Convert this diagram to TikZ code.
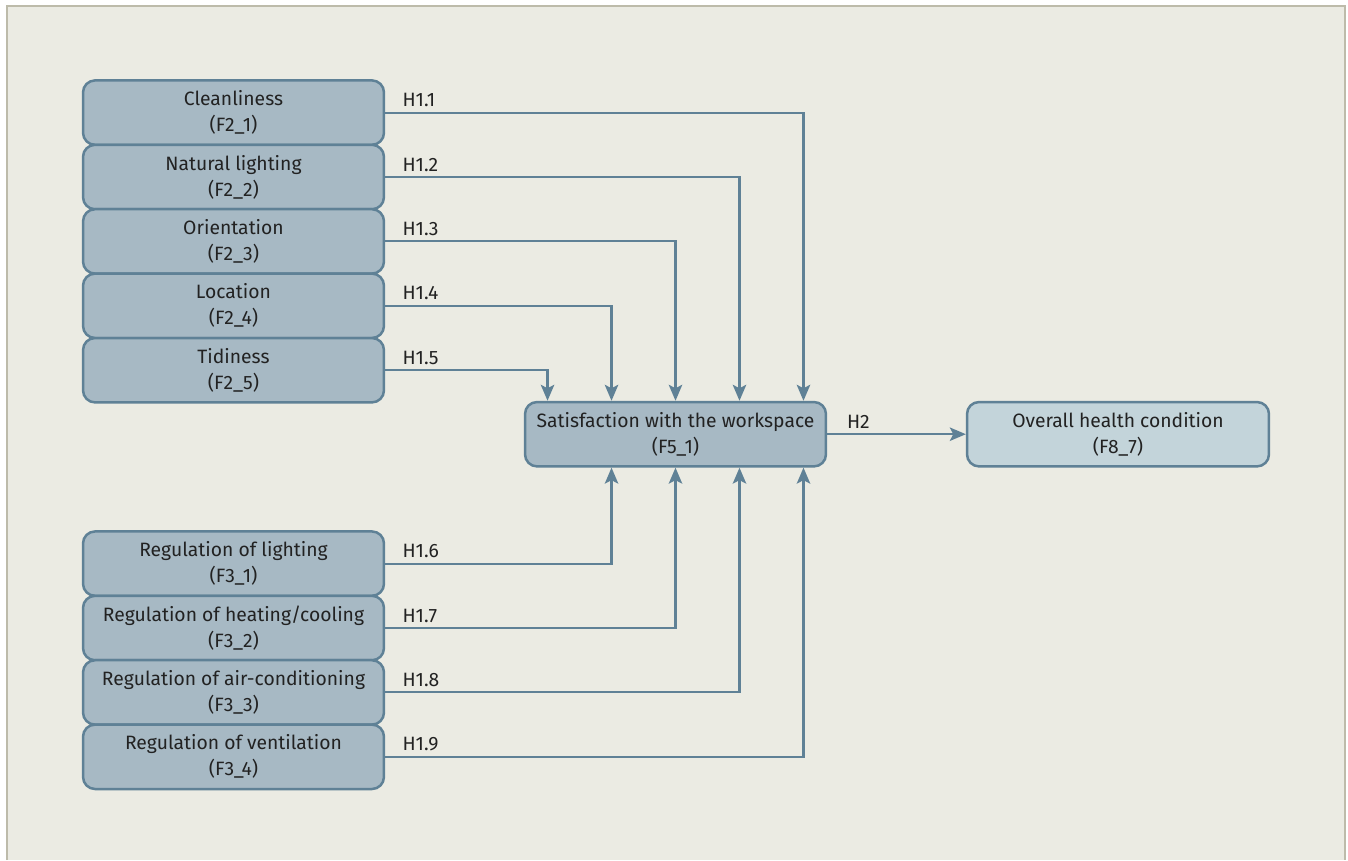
\documentclass[tikz,border=0pt]{standalone}
\usepackage{fontspec}
\setmainfont{Fira Sans}
\usetikzlibrary{arrows.meta,positioning}

\definecolor{boxfill}{HTML}{A7B9C4}
\definecolor{boxline}{HTML}{5F8196}
\definecolor{healthfill}{HTML}{C3D4DA}
\definecolor{panel}{HTML}{EBEBE3}
\definecolor{frameline}{HTML}{BDBBAA}
\definecolor{ink}{HTML}{222222}

\tikzset{
  factor/.style={draw=boxline, fill=boxfill, line width=0.05cm, rounded corners=0.24cm,
    minimum width=6.02cm, minimum height=1.288cm, inner sep=0pt, align=center,
    text=ink, font=\fontsize{11}{14.8}\selectfont},
  outcome/.style={factor, fill=healthfill, minimum width=6.04cm},
  link/.style={draw=boxline, line width=0.042cm,
    -{Stealth[length=0.32cm,width=0.27cm,inset=0.07cm]}},
  hyp/.style={anchor=base west, inner sep=0pt, text=ink, font=\fontsize{11}{14.8}\selectfont}
}

\begin{document}
\begin{tikzpicture}[x=0.02cm,y=-0.02cm]
    % panel
    \useasboundingbox (0,0) rectangle (1348,860);
    \fill[white] (0,0) rectangle (1348,860);
    \fill[panel] (7,6) rectangle (1345,860);
    \draw[frameline, line width=0.05cm] (7,860) -- (7,6) -- (1345,6) -- (1345,860);

    % workspace factors
    \node[factor] (clean) at (233.5,112.6) {Cleanliness\\(F2\_1)};
    \node[factor] (light) at (233.5,177.0) {Natural lighting\\(F2\_2)};
    \node[factor] (orient) at (233.5,241.4) {Orientation\\(F2\_3)};
    \node[factor] (loc) at (233.5,305.8) {Location\\(F2\_4)};
    \node[factor] (tidy) at (233.5,370.2) {Tidiness\\(F2\_5)};

    % regulation factors
    \node[factor] (reglight) at (233.5,563.6) {Regulation of lighting\\(F3\_1)};
    \node[factor] (regheat) at (233.5,628.0) {Regulation of heating/cooling\\(F3\_2)};
    \node[factor] (regair) at (233.5,692.4) {Regulation of air-conditioning\\(F3\_3)};
    \node[factor] (regvent) at (233.5,756.8) {Regulation of ventilation\\(F3\_4)};

    \node[factor] (satis) at (675.5,434.2) {Satisfaction with the workspace\\(F5\_1)};
    \node[outcome] (health) at (1118,434.2) {Overall health condition\\(F8\_7)};

    % hypotheses
    \draw[link] (clean.east) -| ([xshift=2.56cm]satis.north);
    \draw[link] (light.east) -| ([xshift=1.28cm]satis.north);
    \draw[link] (orient.east) -| (satis.north);
    \draw[link] (loc.east) -| ([xshift=-1.28cm]satis.north);
    \draw[link] (tidy.east) -| ([xshift=-2.56cm]satis.north);
    \draw[link] (reglight.east) -| ([xshift=-1.28cm]satis.south);
    \draw[link] (regheat.east) -| (satis.south);
    \draw[link] (regair.east) -| ([xshift=1.28cm]satis.south);
    \draw[link] (regvent.east) -| ([xshift=2.56cm]satis.south);
    \draw[link] (satis.east) -- (health.west);

    \node[hyp] (h11) at ([xshift=0.34cm,yshift=0.12cm]clean.east) {H1.1};
    \node[hyp] (h12) at ([xshift=0.34cm,yshift=0.12cm]light.east) {H1.2};
    \node[hyp] (h13) at ([xshift=0.34cm,yshift=0.12cm]orient.east) {H1.3};
    \node[hyp] (h14) at ([xshift=0.34cm,yshift=0.12cm]loc.east) {H1.4};
    \node[hyp] (h15) at ([xshift=0.34cm,yshift=0.12cm]tidy.east) {H1.5};
    \node[hyp] (h16) at ([xshift=0.34cm,yshift=0.12cm]reglight.east) {H1.6};
    \node[hyp] (h17) at ([xshift=0.34cm,yshift=0.12cm]regheat.east) {H1.7};
    \node[hyp] (h18) at ([xshift=0.34cm,yshift=0.12cm]regair.east) {H1.8};
    \node[hyp] (h19) at ([xshift=0.34cm,yshift=0.12cm]regvent.east) {H1.9};
    \node[hyp] (h2) at ([xshift=0.39cm,yshift=0.12cm]satis.east) {H2};
\end{tikzpicture}
\end{document}
